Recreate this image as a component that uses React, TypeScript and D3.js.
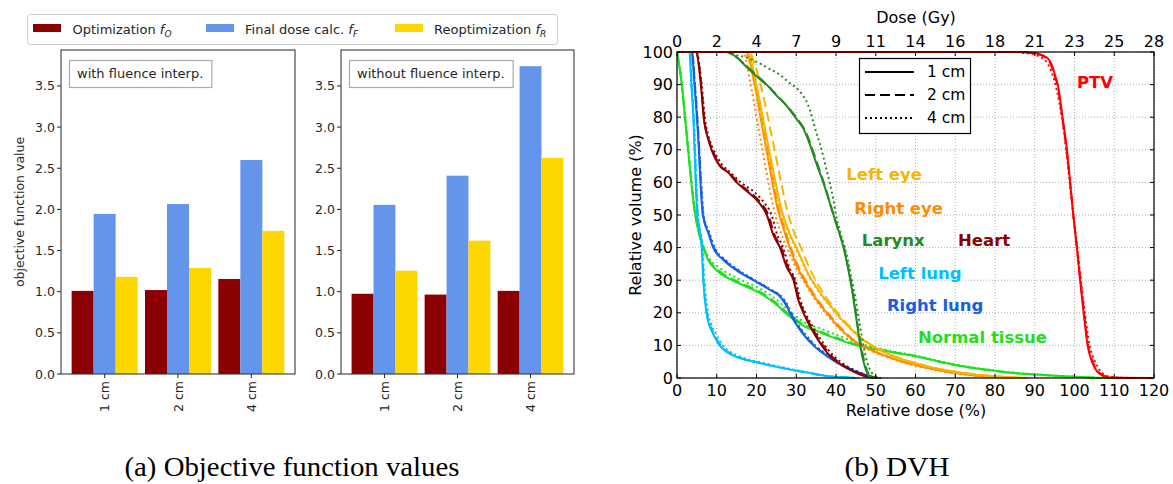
import { useEffect, useRef } from "react"
import * as d3 from "d3"

// ---- bar chart data ----
const categories = ["1 cm", "2 cm", "4 cm"]
const optWith = [1.01, 1.02, 1.155]
const finalWith = [1.945, 2.065, 2.6]
const reoptWith = [1.18, 1.29, 1.74]
const optWithout = [0.975, 0.965, 1.01]
const finalWithout = [2.055, 2.41, 3.74]
const reoptWithout = [1.255, 1.62, 2.625]
const barTicks = [0, 0.5, 1, 1.5, 2, 2.5, 3, 3.5]

// ---- DVH data: [relative dose %, relative volume %] ----
const doseTicks = [0, 10, 20, 30, 40, 50, 60, 70, 80, 90, 100, 110, 120]
const gyTickLabels = ["0", "2", "4", "7", "9", "11", "14", "16", "18", "21", "23", "25", "28"]
const volTicks = [0, 10, 20, 30, 40, 50, 60, 70, 80, 90, 100]

const ptv1 = [[0,100],[86,100],[89,99.8],[91,99.4],[92.5,98.7],[93.7,97.5],[94.6,95],[95.2,92.5],[95.8,90],[97,80],[98.1,70],[98.9,60],[99.7,50],[100.6,40],[101.4,30],[102.3,20],[103.3,10],[104.4,5],[105.4,2.5],[106.5,1.2],[108,0.3],[110,0.05],[120,0]]
const ptv2 = [[0,100],[86,100],[89,99.7],[91,99.3],[92.5,98.5],[93.6,97.2],[94.5,94.8],[95.1,92.3],[95.7,90],[96.9,80],[98,70],[98.9,60],[99.7,50],[100.6,40],[101.5,30],[102.4,20],[103.4,10],[104.6,5],[105.6,2.4],[106.8,1.1],[108.3,0.3],[110.5,0.05],[120,0]]
const ptv4 = [[0,100],[84,100],[88,99.6],[90.5,99],[92,98],[93.2,96.5],[94.2,94],[95,91],[95.6,88],[96.8,80],[97.9,70],[98.8,60],[99.7,50],[100.7,40],[101.6,30],[102.6,20],[103.8,10],[105.2,5],[106.3,2.5],[107.5,1],[109.5,0.3],[112,0.05],[120,0]]

const normal1 = [[0,100],[1.2,90],[2,80],[2.8,70],[3.6,60],[4.6,50],[5.6,44],[6.6,40],[7.9,36],[10,33],[13.8,30],[17.5,28],[20.9,26],[23.4,24],[25.5,22],[27.2,20],[29.3,18],[31.8,16],[36,14],[40.2,12],[45.2,10],[50,8.8],[55,7.7],[60,6.7],[65,5.3],[70,4],[75,3],[80,2.2],[85,1.5],[90,1.1],[95,0.7],[100,0.4],[105,0.1],[110,0]]
const normal2 = [[0,100],[1.2,90],[2,80],[2.8,70],[3.6,60],[4.6,50],[5.6,44],[6.7,40],[8,36.2],[10.2,33.3],[14,30.3],[17.7,28.3],[21.1,26.3],[23.6,24.3],[25.7,22.3],[27.4,20.3],[29.5,18.3],[32,16.3],[36.2,14.2],[40.5,12.2],[45.5,10.1],[50,8.9],[55,7.8],[60,6.7],[65,5.3],[70,4],[75,3],[80,2.2],[85,1.5],[90,1.1],[95,0.7],[100,0.4],[105,0.1],[110,0]]
const normal4 = [[0,100],[1.3,90],[2.1,80],[2.9,70],[3.7,60],[4.7,50],[5.7,44],[6.8,40],[8.2,36.5],[10.5,34],[14.5,31],[18,29],[21.5,27],[24,25],[26,23],[27.8,21],[29.8,19],[32.2,17],[36.5,15],[41,12.8],[46,10.6],[50,9.3],[55,8],[60,6.9],[65,5.5],[70,4.1],[75,3.1],[80,2.3],[85,1.6],[90,1.1],[95,0.7],[100,0.4],[105,0.1],[110,0]]

const lLung1 = [[0,100],[3.1,100],[3.6,90],[4.1,80],[4.4,70],[4.7,60],[5.1,50],[5.7,45],[6.2,40],[6.6,30],[7.4,20],[8.2,16],[9.1,13.5],[10.7,10],[12.5,8],[14.9,6.5],[17.5,5.5],[20.8,4.6],[23.5,3.8],[26.7,3],[30,2.2],[33.4,1.5],[36,0.9],[38.4,0.5],[42,0.2],[45,0]]
const lLung2 = [[0,100],[3.2,100],[3.7,90],[4.2,80],[4.5,70],[4.8,60],[5.2,50],[5.8,45],[6.3,40],[6.7,30],[7.5,20],[8.4,16],[9.3,13.5],[11,10],[12.8,8],[15.2,6.5],[17.8,5.5],[21,4.6],[23.7,3.8],[26.9,3],[30.2,2.2],[33.6,1.5],[36.2,0.9],[38.6,0.5],[42,0.2],[45,0]]
const lLung4 = [[0,100],[3.2,100],[3.7,90],[4.2,80],[4.6,70],[4.9,60],[5.3,50],[5.9,45],[6.4,40],[6.9,30],[7.8,20],[8.8,16],[9.8,13.5],[11.5,10],[13.4,8],[15.8,6.6],[18.3,5.6],[21.5,4.7],[24.2,3.9],[27.3,3.1],[30.5,2.3],[33.8,1.5],[36.5,0.9],[39,0.5],[42.5,0.2],[46,0]]

const rLung1 = [[0,100],[3.7,100],[4.4,90],[5,80],[5.5,70],[5.9,60],[6.5,50],[7.9,44.4],[9.1,40],[11.7,36.2],[15,33],[19.2,30],[23.4,27],[25.9,25],[27.1,23],[27.8,21.5],[28.4,20],[29.7,17],[31.4,14],[34.3,10],[37.7,6.7],[41.9,3.6],[46,1.5],[48.5,0.5],[50.5,0]]
const rLung2 = [[0,100],[3.8,100],[4.5,90],[5.1,80],[5.6,70],[6,60],[6.6,50],[8,44.4],[9.3,40],[11.9,36.2],[15.3,33],[19.4,30],[23.6,27],[26.1,25],[27.3,23],[28,21.5],[28.6,20],[29.9,17],[31.6,14],[34.5,10],[37.9,6.7],[42.1,3.6],[46.2,1.5],[48.7,0.5],[50.7,0]]
const rLung4 = [[0,100],[3.8,100],[4.5,90],[5.1,80],[5.6,70],[6.1,60],[6.7,50],[8.2,44.4],[9.5,40],[12.2,36.2],[15.6,33],[19.6,30],[23.8,27],[26.3,25],[27.5,23],[28.2,21.5],[28.8,20],[30.1,17],[31.9,14],[34.8,10],[38.3,6.7],[42.5,3.6],[46.6,1.5],[49,0.5],[51,0]]

const heart1 = [[0,100],[4.7,100],[6,90],[6.7,80],[7.9,73],[8.7,70],[10.8,65],[12.9,63],[15,60],[17.9,57],[20.5,54],[22.6,50],[24.2,44],[25.9,40],[27.6,34],[29.3,30],[30.5,24],[31.8,20],[34.3,14],[36.4,10],[38.5,6.7],[41.9,3.6],[45.2,1.5],[48,0.3],[50,0]]
const heart2 = [[0,100],[4.8,100],[6.1,90],[6.8,80],[8,73],[8.9,70],[11,65],[13.1,63],[15.3,60],[18.3,57],[20.9,54],[23,50],[24.5,44],[26.2,40],[27.9,34],[29.5,30],[30.7,24],[32,20],[34.6,14],[36.7,10],[38.9,6.7],[42.2,3.6],[45.5,1.5],[48.3,0.3],[50.3,0]]
const heart4 = [[0,100],[4.9,100],[6.2,90],[7,80],[8.2,73],[9.2,70],[11.3,65.5],[13.5,63],[16,60],[19,57.5],[21.8,54],[23.8,50],[25.2,44],[26.7,40],[28.2,34],[29.8,30],[31,24],[32.3,20],[35,14],[37.2,10],[39.5,6.7],[42.8,3.6],[46,1.5],[49,0.3],[51,0]]

const rEye1 = [[0,100],[17.3,100],[18.3,97],[19.2,92],[20,87],[21,80],[22.5,70],[24,60],[25.3,52],[26.5,47],[27.8,42],[29,38],[30.3,34],[32,30],[34,26],[36,22.5],[38,19.5],[40,16.5],[42,14],[45,11],[48,9],[52,7],[56,5.3],[60,4],[65,2.6],[70,1.5],[75,0.8],[80,0.3],[85,0]]
const rEye2 = [[0,100],[17.5,100],[18.6,97],[19.5,92],[20.4,86.5],[21.4,79.5],[22.9,69.5],[24.4,59.5],[25.7,51.5],[26.9,46.5],[28.2,41.5],[29.4,37.6],[30.7,33.7],[32.4,29.8],[34.4,25.8],[36.4,22.3],[38.4,19.3],[40.4,16.4],[42.4,13.9],[45.3,10.9],[48.3,8.9],[52.3,6.9],[56.3,5.2],[60.3,3.9],[65.3,2.5],[70.3,1.5],[75.3,0.8],[80.3,0.3],[85.3,0]]
const rEye4 = [[0,100],[16.8,100],[17.6,96],[18.4,91],[19.3,85],[20.3,78],[21.8,68],[23.3,58],[24.7,50],[26,45],[27.3,41],[28.7,37],[30,33.5],[32,29.5],[34,25.5],[36,22],[38,19],[40,16.2],[42,13.8],[45,10.8],[48,8.8],[52,6.8],[56,5.1],[60,3.8],[65,2.4],[70,1.4],[75,0.7],[80,0.3],[85,0]]

const lEye1 = [[0,100],[17.8,100],[18.9,96],[19.8,91],[20.8,85],[21.9,78],[23.3,69],[24.8,60],[26.2,52],[27.5,47],[28.8,43],[30,40],[31.5,36],[33,32],[35,28],[37,24.5],[39,21.5],[41,18.5],[43,16],[46,12.5],[49,10],[52,8],[56,6],[60,4.5],[65,3],[70,1.9],[75,1.1],[80,0.5],[85,0.15],[88,0]]
const lEye2 = [[0,100],[18.2,100],[19.6,96],[20.8,91],[22,85],[23.2,78],[24.7,69],[26.2,60],[27.6,52],[28.8,47],[30,43],[31.2,40],[32.5,36],[34,32],[35.8,28],[37.6,24.5],[39.5,21.5],[41.3,18.5],[43.3,16],[46,12.7],[49,10.1],[52,8.1],[56,6.1],[60,4.6],[65,3],[70,1.9],[75,1.1],[80,0.5],[85,0.15],[88,0]]
const lEye4 = [[0,100],[17.5,100],[18.4,96],[19.3,91],[20.3,85],[21.4,78],[22.8,69],[24.3,60],[25.8,52],[27.2,47],[28.5,43],[29.8,40],[31.3,36],[32.8,32],[34.8,28],[36.8,24.5],[38.8,21.5],[40.8,18.5],[42.8,16],[45.8,12.5],[48.8,10],[51.8,8],[55.8,6],[59.8,4.5],[64.8,3],[69.8,1.9],[74.8,1.1],[79.8,0.5],[84.8,0.15],[87.8,0]]

const larynx1 = [[0,100],[12.5,100],[13.5,99.5],[15.4,98],[17,96],[18.7,94],[20.5,92],[22.5,90],[25,86.7],[27.5,83.6],[29.7,80],[31.8,76.5],[33.9,70],[35.3,65],[36.8,60],[38.1,55],[39.4,50],[40.7,45],[41.9,40],[42.8,35],[43.6,30],[44.3,25],[44.9,20],[45.5,15],[46.1,10],[47,4.6],[47.7,2],[48.3,0.5],[49.5,0]]
const larynx2 = [[0,100],[12.5,100],[13.5,99.5],[15.4,98],[17.2,96],[19,94],[21,91.8],[23,89.5],[25.5,86.3],[28,83],[30.3,79.5],[32.4,75.5],[34.4,69],[35.8,64],[37.2,59],[38.4,54],[39.6,49],[40.8,44.5],[42,40],[42.9,35],[43.7,30],[44.4,25],[45,20],[45.6,15],[46.3,10],[47.2,4.6],[47.9,2],[48.6,0.5],[50,0]]
const larynx4 = [[0,100],[13,100],[15,99],[17,98.5],[20,97],[23,95],[25.9,93],[28.3,90.5],[30,89],[31.5,87],[32.5,85],[33.5,82],[34.2,79],[35,75.5],[35.9,72],[36.8,68],[37.6,64],[38.5,59.5],[39.3,55],[40,50],[41,45],[42.2,40],[43.2,35],[44,30],[44.8,25],[45.5,20],[46.2,15],[46.9,10],[47.8,5],[48.8,2],[50,0.5],[51.5,0]]

const organs = [
  { name: "Normal tissue", color: "#1ee01e", curves: [normal1, normal2, normal4], lx: 60.6, ly: 12.3 },
  { name: "Left lung", color: "#00bfff", curves: [lLung1, lLung2, lLung4], lx: 50.6, ly: 32.2 },
  { name: "Right lung", color: "#1660e6", curves: [rLung1, rLung2, rLung4], lx: 52.8, ly: 22.1 },
  { name: "Heart", color: "#8b0000", curves: [heart1, heart2, heart4], lx: 70.7, ly: 42.3 },
  { name: "Right eye", color: "#ff8c00", curves: [rEye1, rEye2, rEye4], lx: 44.6, ly: 52.1 },
  { name: "Left eye", color: "#f8b400", curves: [lEye1, lEye2, lEye4], lx: 42.6, ly: 62.3 },
  { name: "Larynx", color: "#228b22", curves: [larynx1, larynx2, larynx4], lx: 46.5, ly: 42.3 },
  { name: "PTV", color: "#ff0000", curves: [ptv1, ptv2, ptv4], lx: 100.6, ly: 90.5 },
]

const dashes = [null, "10,5", "2,3"]
const sizeLabels = ["1 cm", "2 cm", "4 cm"]

const barColors = ["#8b0000", "#6495ed", "#ffd700"]
const SANS = "DejaVu Sans, sans-serif"

export default function App() {
  const svgRef = useRef<SVGSVGElement>(null)

  useEffect(() => {
    if (!svgRef.current) return
    const svg = d3.select(svgRef.current)
    svg.selectAll("*").remove()

    svg.append("rect").attr("width", 1173).attr("height", 484).attr("fill", "white")

    // ===== (a) bar panels =====
    const y = d3.scaleLinear().domain([0, 3.937]).range([374, 50])
    const panels = [
      { x0: 61, x1: 295, label: "with fluence interp.", series: [optWith, finalWith, reoptWith] },
      { x0: 341, x1: 574, label: "without fluence interp.", series: [optWithout, finalWithout, reoptWithout] },
    ]

    panels.forEach(p => {
      const x = d3.scaleLinear().domain([-0.595, 2.595]).range([p.x0, p.x1])
      const g = svg.append("g")

      p.series.forEach((vals, k) => {
        g.selectAll(null)
          .data(vals)
          .enter()
          .append("rect")
          .attr("x", (d, i) => x(i + (k - 1) * 0.3 - 0.15))
          .attr("width", x(0.3) - x(0))
          .attr("y", d => y(d))
          .attr("height", d => y(0) - y(d))
          .attr("fill", barColors[k])
      })

      g.append("rect")
        .attr("x", p.x0).attr("y", 50)
        .attr("width", p.x1 - p.x0).attr("height", 324)
        .attr("fill", "none").attr("stroke", "#262626").attr("stroke-width", 1)

      barTicks.forEach(t => {
        g.append("line").attr("x1", p.x0).attr("x2", p.x0 - 4)
          .attr("y1", y(t)).attr("y2", y(t)).attr("stroke", "#262626")
        g.append("text").attr("x", p.x0 - 6).attr("y", y(t))
          .attr("text-anchor", "end").attr("dominant-baseline", "central")
          .attr("font-family", SANS).attr("font-size", 12.5).attr("fill", "#262626")
          .text(t.toFixed(1))
      })

      categories.forEach((c, i) => {
        g.append("line").attr("x1", x(i)).attr("x2", x(i))
          .attr("y1", 374).attr("y2", 378).attr("stroke", "#262626")
        g.append("text")
          .attr("transform", `translate(${x(i)},381) rotate(-90)`)
          .attr("text-anchor", "end").attr("dominant-baseline", "central")
          .attr("font-family", SANS).attr("font-size", 12.5).attr("fill", "#262626")
          .text(c)
      })

      const lbl = g.append("text").attr("x", p.x0 + 16).attr("y", 78)
        .attr("font-family", SANS).attr("font-size", 13).attr("fill", "#262626")
        .text(p.label)
      const w = (lbl.node() as SVGTextElement).getComputedTextLength()
      g.insert("rect", "text")
        .attr("x", p.x0 + 8.5).attr("y", 60.5)
        .attr("width", w + 16).attr("height", 27)
        .attr("fill", "white").attr("stroke", "#aaa").attr("stroke-width", 1.2)
    })

    svg.append("text")
      .attr("transform", "translate(19,212) rotate(-90)")
      .attr("text-anchor", "middle").attr("dominant-baseline", "central")
      .attr("font-family", SANS).attr("font-size", 12.5).attr("fill", "#262626")
      .text("objective function value")

    // legend
    const leg = svg.append("g")
    leg.append("rect").attr("x", 27.5).attr("y", 14.5).attr("width", 530).attr("height", 30)
      .attr("rx", 3).attr("fill", "white").attr("stroke", "#ccc")
    const legItems = [
      { text: "Optimization ", sub: "O", sx: 33, tx: 72.5 },
      { text: "Final dose calc. ", sub: "F", sx: 206, tx: 245 },
      { text: "Reoptimization ", sub: "R", sx: 395, tx: 434 },
    ]
    legItems.forEach((it, k) => {
      leg.append("rect").attr("x", it.sx).attr("y", 24).attr("width", 28).attr("height", 8)
        .attr("fill", barColors[k])
      const t = leg.append("text").attr("x", it.tx).attr("y", 34)
        .attr("font-family", SANS).attr("font-size", 13).attr("fill", "#262626")
      t.append("tspan").text(it.text)
      t.append("tspan").attr("font-style", "italic").text("f")
      t.append("tspan").attr("font-style", "italic").attr("font-size", 9).attr("dy", 3).text(it.sub)
    })

    // ===== (b) DVH =====
    const dx = d3.scaleLinear().domain([0, 120]).range([677, 1154])
    const dy = d3.scaleLinear().domain([0, 100]).range([378, 52])
    const dg = svg.append("g")

    doseTicks.forEach(t => {
      dg.append("line").attr("x1", dx(t)).attr("x2", dx(t)).attr("y1", 52).attr("y2", 378)
        .attr("stroke", "#999").attr("stroke-dasharray", "1,2").attr("stroke-width", 0.8)
    })
    volTicks.forEach(t => {
      dg.append("line").attr("x1", 677).attr("x2", 1154).attr("y1", dy(t)).attr("y2", dy(t))
        .attr("stroke", "#999").attr("stroke-dasharray", "1,2").attr("stroke-width", 0.8)
    })

    const line = d3.line<number[]>().x(d => dx(d[0])).y(d => dy(d[1])).curve(d3.curveMonotoneX)
    const clip = dg.append("clipPath").attr("id", "dvhclip")
    clip.append("rect").attr("x", 677).attr("y", 50).attr("width", 477).attr("height", 329)

    organs.forEach(o => {
      o.curves.forEach((c, k) => {
        dg.append("path").attr("d", line(c as number[][]))
          .attr("fill", "none").attr("stroke", o.color).attr("stroke-width", 2)
          .attr("stroke-dasharray", dashes[k])
          .attr("clip-path", "url(#dvhclip)")
      })
    })

    organs.forEach(o => {
      dg.append("text").attr("x", dx(o.lx)).attr("y", dy(o.ly))
        .attr("dominant-baseline", "central")
        .attr("font-family", SANS).attr("font-weight", "bold").attr("font-size", 16.5)
        .attr("fill", o.color).text(o.name)
    })

    dg.append("rect").attr("x", 677).attr("y", 52).attr("width", 477).attr("height", 326)
      .attr("fill", "none").attr("stroke", "black").attr("stroke-width", 1.2)

    doseTicks.forEach((t, i) => {
      dg.append("line").attr("x1", dx(t)).attr("x2", dx(t)).attr("y1", 378).attr("y2", 374).attr("stroke", "black")
      dg.append("line").attr("x1", dx(t)).attr("x2", dx(t)).attr("y1", 52).attr("y2", 56).attr("stroke", "black")
      dg.append("text").attr("x", dx(t)).attr("y", 396).attr("text-anchor", "middle")
        .attr("font-family", SANS).attr("font-size", 16).text(String(t))
      dg.append("text").attr("x", dx(t)).attr("y", 47).attr("text-anchor", "middle")
        .attr("font-family", SANS).attr("font-size", 16).text(gyTickLabels[i])
    })
    volTicks.forEach(t => {
      dg.append("line").attr("x1", 677).attr("x2", 681).attr("y1", dy(t)).attr("y2", dy(t)).attr("stroke", "black")
      dg.append("line").attr("x1", 1154).attr("x2", 1150).attr("y1", dy(t)).attr("y2", dy(t)).attr("stroke", "black")
      dg.append("text").attr("x", 673).attr("y", dy(t)).attr("text-anchor", "end")
        .attr("dominant-baseline", "central")
        .attr("font-family", SANS).attr("font-size", 16).text(String(t))
    })

    dg.append("text").attr("x", 916).attr("y", 416).attr("text-anchor", "middle")
      .attr("font-family", SANS).attr("font-size", 16).text("Relative dose (%)")
    dg.append("text").attr("x", 916).attr("y", 23).attr("text-anchor", "middle")
      .attr("font-family", SANS).attr("font-size", 16).text("Dose (Gy)")
    dg.append("text").attr("transform", "translate(635,215) rotate(-90)")
      .attr("text-anchor", "middle").attr("dominant-baseline", "central")
      .attr("font-family", SANS).attr("font-size", 16).text("Relative volume (%)")

    // line-style legend
    const lg = dg.append("g")
    lg.append("rect").attr("x", 859.5).attr("y", 58.5).attr("width", 111).attr("height", 75)
      .attr("fill", "white").attr("stroke", "black").attr("stroke-width", 1.2)
    sizeLabels.forEach((s, k) => {
      const yy = 72 + k * 23
      lg.append("line").attr("x1", 865).attr("x2", 914).attr("y1", yy).attr("y2", yy)
        .attr("stroke", "black").attr("stroke-width", 2).attr("stroke-dasharray", dashes[k])
      lg.append("text").attr("x", 927).attr("y", yy).attr("dominant-baseline", "central")
        .attr("font-family", SANS).attr("font-size", 15.5).text(s)
    })

    // captions
    svg.append("text").attr("x", 292).attr("y", 476).attr("text-anchor", "middle")
      .attr("font-family", "Liberation Serif, serif").attr("font-size", 28)
      .attr("textLength", 335).attr("lengthAdjust", "spacingAndGlyphs")
      .text("(a) Objective function values")
    svg.append("text").attr("x", 897).attr("y", 476).attr("text-anchor", "middle")
      .attr("font-family", "Liberation Serif, serif").attr("font-size", 28)
      .attr("textLength", 105).attr("lengthAdjust", "spacingAndGlyphs")
      .text("(b) DVH")
  }, [])

  return (
    <div style={{ position: "absolute", left: 0, top: 0 }}>
      <svg ref={svgRef} width={1173} height={484} style={{ display: "block" }} />
    </div>
  )
}
